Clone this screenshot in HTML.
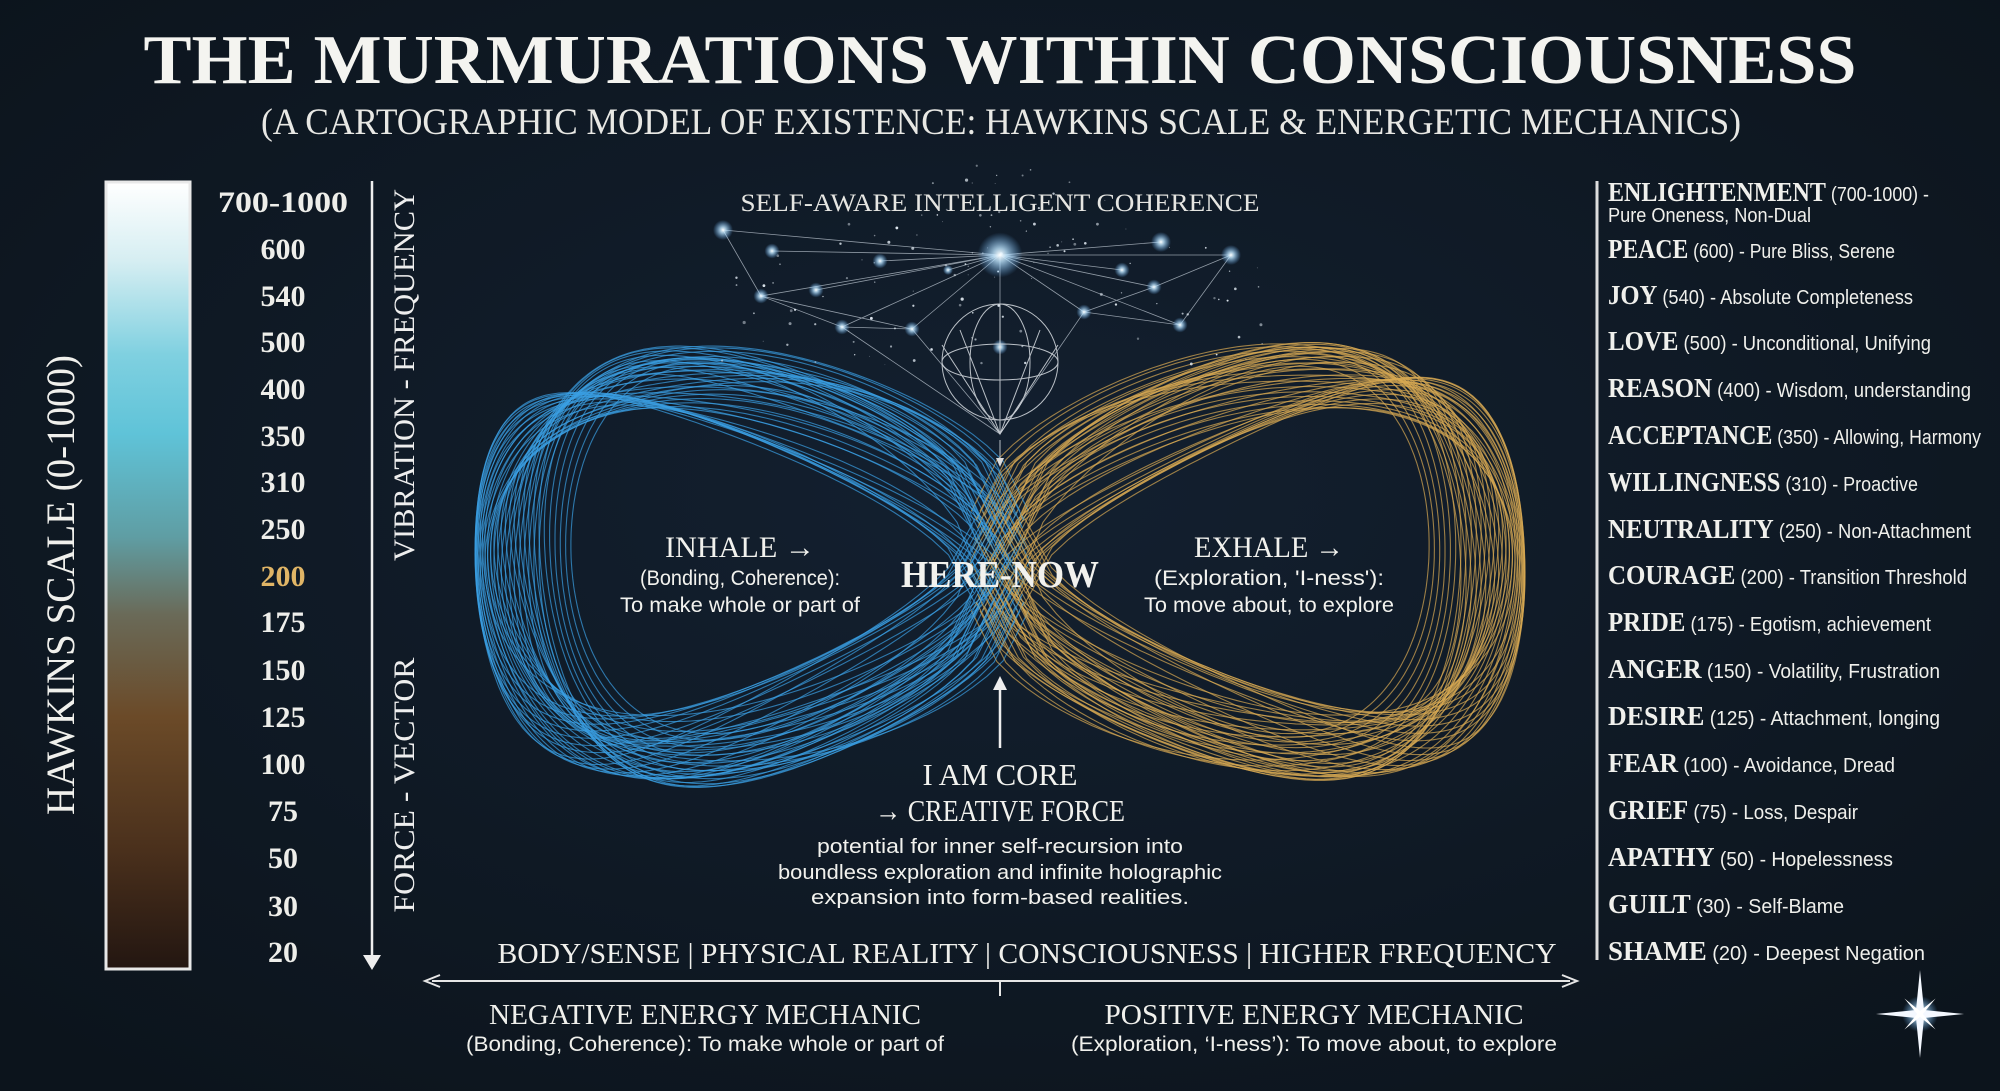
<!DOCTYPE html>
<html><head><meta charset="utf-8"><style>
html,body{margin:0;padding:0;background:#0e1720;}
svg{display:block}
.ser{font-family:"Liberation Serif",serif;}
.san{font-family:"Liberation Sans",sans-serif;}
</style></head><body>
<svg id="s" width="2000" height="1091" viewBox="0 0 2000 1091" xmlns="http://www.w3.org/2000/svg">
<defs>
<linearGradient id="bar" x1="0" y1="0" x2="0" y2="1">
<stop offset="0" stop-color="#ffffff"/>
<stop offset="0.1" stop-color="#d6eef2"/>
<stop offset="0.22" stop-color="#7fd0e0"/>
<stop offset="0.32" stop-color="#5fc3d8"/>
<stop offset="0.45" stop-color="#5f9ea4"/>
<stop offset="0.55" stop-color="#6a6a58"/>
<stop offset="0.68" stop-color="#6b4a28"/>
<stop offset="0.85" stop-color="#4a301c"/>
<stop offset="1" stop-color="#231611"/>
</linearGradient>
<radialGradient id="glow"><stop offset="0" stop-color="#fff"/><stop offset="0.3" stop-color="#bfe6ff" stop-opacity="0.8"/><stop offset="1" stop-color="#6ab8ff" stop-opacity="0"/></radialGradient>
<radialGradient id="bg" cx="0.5" cy="0.45" r="0.7"><stop offset="0" stop-color="#132030"/><stop offset="1" stop-color="#0c141c"/></radialGradient>
</defs>
<rect width="2000" height="1091" fill="url(#bg)"/>

<text class="ser" x="1000" y="83" text-anchor="middle" font-size="70" font-weight="bold" fill="#f4f4f0" textLength="1713" lengthAdjust="spacingAndGlyphs">THE MURMURATIONS WITHIN CONSCIOUSNESS</text>
<text class="ser" x="1001" y="134" text-anchor="middle" font-size="37" fill="#e8e8e4" textLength="1480" lengthAdjust="spacingAndGlyphs">(A CARTOGRAPHIC MODEL OF EXISTENCE: HAWKINS SCALE &amp; ENERGETIC MECHANICS)</text>

<rect x="106" y="182" width="84" height="787" fill="url(#bar)" stroke="#e8e8e8" stroke-width="3"/>
<text class="ser" transform="translate(74,585) rotate(-90)" text-anchor="middle" font-size="40" fill="#f0f0ec" textLength="460" lengthAdjust="spacingAndGlyphs">HAWKINS SCALE (0-1000)</text>
<g class="ser" font-size="30" font-weight="bold" fill="#eeeeea" text-anchor="middle">
<text x="283" y="212" textLength="130" lengthAdjust="spacingAndGlyphs">700-1000</text>
<text x="283" y="259">600</text><text x="283" y="306">540</text><text x="283" y="352">500</text>
<text x="283" y="399">400</text><text x="283" y="446">350</text><text x="283" y="492">310</text>
<text x="283" y="539">250</text><text x="283" y="586" fill="#e0b566">200</text><text x="283" y="632">175</text>
<text x="283" y="680">150</text><text x="283" y="727">125</text><text x="283" y="774">100</text>
<text x="283" y="821">75</text><text x="283" y="868">50</text><text x="283" y="916">30</text><text x="283" y="962">20</text>
</g>
<line x1="372" y1="181" x2="372" y2="962" stroke="#eee" stroke-width="2.5"/>
<path d="M363 955 L372 970 L381 955 Z" fill="#eee"/>
<text class="ser" transform="translate(414,375) rotate(-90)" text-anchor="middle" font-size="30" fill="#eee" textLength="372" lengthAdjust="spacingAndGlyphs">VIBRATION - FREQUENCY</text>
<text class="ser" transform="translate(414,785) rotate(-90)" text-anchor="middle" font-size="30" fill="#eee" textLength="255" lengthAdjust="spacingAndGlyphs">FORCE - VECTOR</text>

<line x1="1597" y1="181" x2="1597" y2="960" stroke="#ddd" stroke-width="3"/>
<g fill="#f0f0ec" font-size="20">
<text x="1608" y="201" textLength="321" lengthAdjust="spacingAndGlyphs"><tspan class="ser" font-size="27" font-weight="bold">ENLIGHTENMENT</tspan><tspan class="san"> (700-1000) -</tspan></text>
<text class="san" x="1608" y="222" textLength="203" lengthAdjust="spacingAndGlyphs">Pure Oneness, Non-Dual</text>
<text x="1608" y="258" textLength="287" lengthAdjust="spacingAndGlyphs"><tspan class="ser" font-size="27" font-weight="bold">PEACE</tspan><tspan class="san"> (600) - Pure Bliss, Serene</tspan></text>
<text x="1608" y="304" textLength="305" lengthAdjust="spacingAndGlyphs"><tspan class="ser" font-size="27" font-weight="bold">JOY</tspan><tspan class="san"> (540) - Absolute Completeness</tspan></text>
<text x="1608" y="350" textLength="323" lengthAdjust="spacingAndGlyphs"><tspan class="ser" font-size="27" font-weight="bold">LOVE</tspan><tspan class="san"> (500) - Unconditional, Unifying</tspan></text>
<text x="1608" y="397" textLength="363" lengthAdjust="spacingAndGlyphs"><tspan class="ser" font-size="27" font-weight="bold">REASON</tspan><tspan class="san"> (400) - Wisdom, understanding</tspan></text>
<text x="1608" y="444" textLength="373" lengthAdjust="spacingAndGlyphs"><tspan class="ser" font-size="27" font-weight="bold">ACCEPTANCE</tspan><tspan class="san"> (350) - Allowing, Harmony</tspan></text>
<text x="1608" y="491" textLength="310" lengthAdjust="spacingAndGlyphs"><tspan class="ser" font-size="27" font-weight="bold">WILLINGNESS</tspan><tspan class="san"> (310) - Proactive</tspan></text>
<text x="1608" y="538" textLength="363" lengthAdjust="spacingAndGlyphs"><tspan class="ser" font-size="27" font-weight="bold">NEUTRALITY</tspan><tspan class="san"> (250) - Non-Attachment</tspan></text>
<text x="1608" y="584" textLength="359" lengthAdjust="spacingAndGlyphs"><tspan class="ser" font-size="27" font-weight="bold">COURAGE</tspan><tspan class="san"> (200) - Transition Threshold</tspan></text>
<text x="1608" y="631" textLength="323" lengthAdjust="spacingAndGlyphs"><tspan class="ser" font-size="27" font-weight="bold">PRIDE</tspan><tspan class="san"> (175) - Egotism, achievement</tspan></text>
<text x="1608" y="678" textLength="332" lengthAdjust="spacingAndGlyphs"><tspan class="ser" font-size="27" font-weight="bold">ANGER</tspan><tspan class="san"> (150) - Volatility, Frustration</tspan></text>
<text x="1608" y="725" textLength="332" lengthAdjust="spacingAndGlyphs"><tspan class="ser" font-size="27" font-weight="bold">DESIRE</tspan><tspan class="san"> (125) - Attachment, longing</tspan></text>
<text x="1608" y="772" textLength="287" lengthAdjust="spacingAndGlyphs"><tspan class="ser" font-size="27" font-weight="bold">FEAR</tspan><tspan class="san"> (100) - Avoidance, Dread</tspan></text>
<text x="1608" y="819" textLength="250" lengthAdjust="spacingAndGlyphs"><tspan class="ser" font-size="27" font-weight="bold">GRIEF</tspan><tspan class="san"> (75) - Loss, Despair</tspan></text>
<text x="1608" y="866" textLength="285" lengthAdjust="spacingAndGlyphs"><tspan class="ser" font-size="27" font-weight="bold">APATHY</tspan><tspan class="san"> (50) - Hopelessness</tspan></text>
<text x="1608" y="913" textLength="236" lengthAdjust="spacingAndGlyphs"><tspan class="ser" font-size="27" font-weight="bold">GUILT</tspan><tspan class="san"> (30) - Self-Blame</tspan></text>
<text x="1608" y="960" textLength="317" lengthAdjust="spacingAndGlyphs"><tspan class="ser" font-size="27" font-weight="bold">SHAME</tspan><tspan class="san"> (20) - Deepest Negation</tspan></text>
</g>

<g id="inf" fill="none" stroke-width="1.1"></g>

<g id="stars"></g>
<g stroke="#d8dde2" stroke-width="1" fill="none" opacity="0.85">
<circle cx="1000" cy="362" r="58"/>
<ellipse cx="1000" cy="362" rx="58" ry="18"/>
<ellipse cx="1000" cy="362" rx="30" ry="58"/>
<line x1="1000" y1="304" x2="1000" y2="434"/>
<path d="M942 345 L1000 434 L1058 345 M960 330 L1000 434 L1040 330"/>
<line x1="1000" y1="440" x2="1000" y2="462"/>
</g>
<path d="M996 458 L1000 467 L1004 458 Z" fill="#ddd"/>
<text class="ser" x="1000" y="211" text-anchor="middle" font-size="25" fill="#e6e6e2" textLength="519" lengthAdjust="spacingAndGlyphs">SELF-AWARE INTELLIGENT COHERENCE</text>

<g fill="#f2f2ee" text-anchor="middle">
<text class="ser" x="740" y="557" font-size="30" textLength="150" lengthAdjust="spacingAndGlyphs">INHALE →</text>
<text class="san" x="740" y="585" font-size="21" textLength="200" lengthAdjust="spacingAndGlyphs">(Bonding, Coherence):</text>
<text class="san" x="740" y="612" font-size="21" textLength="240" lengthAdjust="spacingAndGlyphs">To make whole or part of</text>
<text class="ser" x="1269" y="557" font-size="30" textLength="150" lengthAdjust="spacingAndGlyphs">EXHALE →</text>
<text class="san" x="1269" y="585" font-size="21" textLength="230" lengthAdjust="spacingAndGlyphs">(Exploration, 'I-ness'):</text>
<text class="san" x="1269" y="612" font-size="21" textLength="250" lengthAdjust="spacingAndGlyphs">To move about, to explore</text>
<text class="ser" x="1000" y="587" font-size="38" font-weight="bold" textLength="198" lengthAdjust="spacingAndGlyphs">HERE-NOW</text>
</g>
<line x1="1000" y1="688" x2="1000" y2="748" stroke="#eee" stroke-width="2.5"/>
<path d="M993 690 L1000 676 L1007 690 Z" fill="#eee"/>
<g fill="#f2f2ee" text-anchor="middle">
<text class="ser" x="1000" y="785" font-size="31" textLength="155" lengthAdjust="spacingAndGlyphs">I AM CORE</text>
<text class="ser" x="1000" y="821" font-size="31" textLength="250" lengthAdjust="spacingAndGlyphs">→ CREATIVE FORCE</text>
<text class="san" x="1000" y="853" font-size="20" textLength="366" lengthAdjust="spacingAndGlyphs">potential for inner self-recursion into</text>
<text class="san" x="1000" y="879" font-size="20" textLength="444" lengthAdjust="spacingAndGlyphs">boundless exploration and infinite holographic</text>
<text class="san" x="1000" y="904" font-size="20" textLength="378" lengthAdjust="spacingAndGlyphs">expansion into form-based realities.</text>
</g>

<text class="ser" x="1027" y="963" text-anchor="middle" font-size="29" fill="#f0f0ec" textLength="1059" lengthAdjust="spacingAndGlyphs">BODY/SENSE | PHYSICAL REALITY | CONSCIOUSNESS | HIGHER FREQUENCY</text>
<line x1="432" y1="981" x2="1570" y2="981" stroke="#e6e6e6" stroke-width="2"/>
<path d="M440 975 L425 981 L440 987" fill="none" stroke="#e6e6e6" stroke-width="2"/>
<path d="M1562 975 L1577 981 L1562 987" fill="none" stroke="#e6e6e6" stroke-width="2"/>
<line x1="1000" y1="981" x2="1000" y2="996" stroke="#e6e6e6" stroke-width="2"/>
<g fill="#f0f0ec" text-anchor="middle">
<text class="ser" x="705" y="1024" font-size="29" textLength="432" lengthAdjust="spacingAndGlyphs">NEGATIVE ENERGY MECHANIC</text>
<text class="san" x="705" y="1051" font-size="21" textLength="478" lengthAdjust="spacingAndGlyphs">(Bonding, Coherence): To make whole or part of</text>
<text class="ser" x="1314" y="1024" font-size="29" textLength="419" lengthAdjust="spacingAndGlyphs">POSITIVE ENERGY MECHANIC</text>
<text class="san" x="1314" y="1051" font-size="21" textLength="486" lengthAdjust="spacingAndGlyphs">(Exploration, ‘I-ness’): To move about, to explore</text>
</g>
<g transform="translate(1920,1014)">
<circle r="18" fill="url(#glow)"/>
<path d="M0 -44 L4 -4 L44 0 L4 4 L0 44 L-4 4 L-44 0 L-4 -4 Z" fill="#f4f8ff"/>
<path d="M0 -22 L2 -2 L22 0 L2 2 L0 22 L-2 2 L-22 0 L-2 -2 Z" fill="#fff" transform="rotate(45)"/>
</g>
</svg>
<script>
(function(){
var NS="http://www.w3.org/2000/svg";
var g=document.getElementById('inf');
var cx=1000,cy=561;
function lobe(side,a,b,dy,ph,amp,e,ey,col,op){
  var pts=[],N=220;
  for(var i=0;i<=N;i++){
    var t=-Math.PI/2+Math.PI*i/N;
    var c=Math.max(0,Math.cos(t)),s=Math.sin(t);
    var x=e*(1-c)+a*Math.pow(c,0.7), y=ey*(1-c)*s+b*s*Math.pow(c,0.4) + (amp*Math.sin(3*t+ph)+dy)*Math.pow(c,0.6);
    pts.push(((side*x)+cx).toFixed(1)+","+(y+cy).toFixed(1));
  }
  var p=document.createElementNS(NS,'polyline');
  p.setAttribute('points',pts.join(' '));
  p.setAttribute('stroke',col);p.setAttribute('stroke-opacity',op);
  g.appendChild(p);
}
var n=48;
for(var k=0;k<n;k++){
  var f=k/(n-1);
  var a=445+80*Math.sin(f*Math.PI*1.0+0.2);
  var b=245+45*Math.abs(Math.sin(f*Math.PI*1.5+0.3));
  var ph=f*Math.PI*2;
  var amp=40*Math.cos(f*Math.PI*2.5);
  var dy=-6+12*Math.sin(f*Math.PI*1.3);
  var e=-30+60*((k*7)%n)/n;
  var ey=50*Math.sin(f*Math.PI*3.1);
  lobe(-1,a,b,dy,ph,amp,e,ey,'#3a9fe4',0.7);
  lobe(1,a,b,dy,ph+0.6,amp,e,ey,'#d9aa52',0.7);
}
var st=document.getElementById('stars');
var S=[[1000,255,9],[723,230,4],[772,251,3],[880,261,3],[948,270,2],[1122,270,3],[1161,242,4],[1231,255,4],[761,296,3],[816,290,3],[912,329,3],[1084,312,3],[1154,287,3],[1000,347,3],[1180,325,3],[842,327,3]];
var L="";
for(var i=1;i<S.length;i++){L+="M1000 255 L"+S[i][0]+" "+S[i][1]+" ";}
L+="M723 230 L761 296 L842 327 L912 329 L1000 434 L1084 312 L1180 325 L1231 255 M761 296 L912 329 M1084 312 L1154 287 L1231 255 M842 327 L1000 434";
var p=document.createElementNS(NS,'path');p.setAttribute('d',L);p.setAttribute('stroke','#c8d2dc');p.setAttribute('stroke-width','0.8');p.setAttribute('fill','none');p.setAttribute('opacity','0.7');st.appendChild(p);
var seed=7;function rnd(){seed=(seed*9301+49297)%233280;return seed/233280;}
for(var i=0;i<160;i++){var c=document.createElementNS(NS,'circle');var x=720+rnd()*560,y=165+rnd()*200;
 if(Math.abs(x-1000)>(y-150)*2.2)continue;c.setAttribute('cx',x);c.setAttribute('cy',y);c.setAttribute('r',(rnd()*1.2+0.4).toFixed(1));c.setAttribute('fill','#dfe8f0');c.setAttribute('opacity',(0.4+rnd()*0.6).toFixed(2));st.appendChild(c);}
for(var i=0;i<S.length;i++){var c=document.createElementNS(NS,'circle');c.setAttribute('cx',S[i][0]);c.setAttribute('cy',S[i][1]);c.setAttribute('r',S[i][2]*2.5);c.setAttribute('fill','url(#glow)');st.appendChild(c);}
})();
</script>
</body></html>
